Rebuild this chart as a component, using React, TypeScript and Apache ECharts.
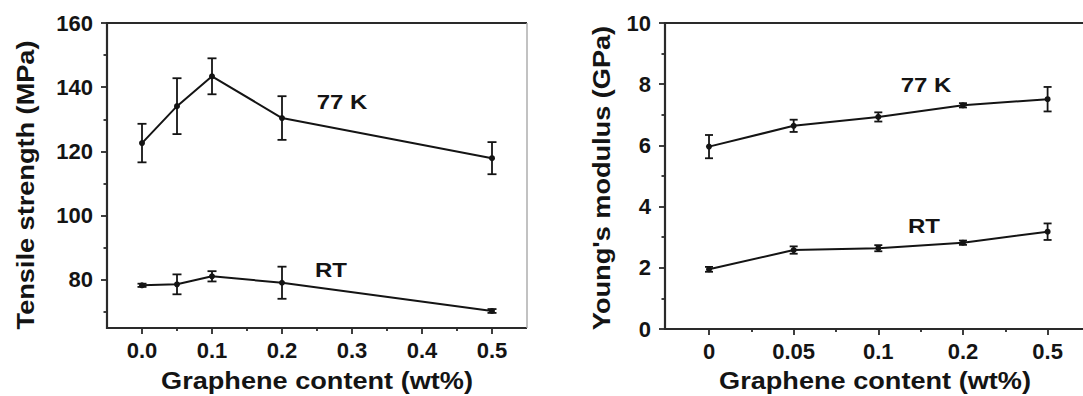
import React, { useEffect, useRef } from "react";
import * as echarts from "echarts";

// ---- data ----
const tensileX = [0, 0.05, 0.1, 0.2, 0.5];
const tensile77 = [122.6, 134.1, 143.4, 130.4, 117.9];
const tensile77Err = [6.0, 8.7, 5.6, 6.8, 5.0];
const tensileRT = [78.3, 78.6, 81.1, 79.1, 70.3];
const tensileRTErr = [0.5, 3.1, 1.6, 5.0, 0.6];
const tensileXTicks = [0, 0.1, 0.2, 0.3, 0.4, 0.5];
const tensileXMinor = [0.05, 0.15, 0.25, 0.35, 0.45];
const tensileYTicks = [80, 100, 120, 140, 160];
const tensileYMinor = [70, 90, 110, 130, 150];

const modulusCats = ["0", "0.05", "0.1", "0.2", "0.5"];
const modulus77 = [5.96, 6.64, 6.93, 7.31, 7.51];
const modulus77Err = [0.38, 0.2, 0.15, 0.07, 0.4];
const modulusRT = [1.95, 2.58, 2.64, 2.82, 3.18];
const modulusRTErr = [0.08, 0.12, 0.1, 0.07, 0.27];
const modulusXTicks = [0, 1, 2, 3, 4];
const modulusXMinor = [0.5, 1.5, 2.5, 3.5, 4.5];
const modulusYTicks = [0, 2, 4, 6, 8, 10];
const modulusYMinor = [1, 3, 5, 7, 9];

const FONT = '"Liberation Sans", Arial, sans-serif';
const INK = "#141414";
const AXIS = "#2a2a2a";

function errData(xs: number[], ys: number[], es: number[]) {
  return ys.map((y, i) => [xs[i], y - es[i], y + es[i]]);
}

function errorSeries(xi: number, yi: number, data: number[][], cap: number) {
  return {
    type: "custom",
    xAxisIndex: xi,
    yAxisIndex: yi,
    data,
    encode: { x: 0, y: [1, 2] },
    z: 3,
    renderItem: (_p: any, api: any) => {
      const x = api.value(0);
      const top = api.coord([x, api.value(2)]);
      const bot = api.coord([x, api.value(1)]);
      const st = { stroke: INK, lineWidth: 1.8 };
      return {
        type: "group",
        children: [
          { type: "line", shape: { x1: top[0], y1: top[1], x2: bot[0], y2: bot[1] }, style: st },
          { type: "line", shape: { x1: top[0] - cap, y1: top[1], x2: top[0] + cap, y2: top[1] }, style: st },
          { type: "line", shape: { x1: bot[0] - cap, y1: bot[1], x2: bot[0] + cap, y2: bot[1] }, style: st },
        ],
      };
    },
  };
}

function lineSeries(xi: number, yi: number, data: number[][]) {
  return {
    type: "line",
    xAxisIndex: xi,
    yAxisIndex: yi,
    data,
    symbol: "circle",
    symbolSize: 6,
    lineStyle: { color: INK, width: 2 },
    itemStyle: { color: INK },
    z: 4,
  };
}

const labelStyle = { color: INK, fontFamily: FONT, fontWeight: "bold" as const, fontSize: 22 };

function txt(text: string, x: number, y: number, size: number, sx: number, rot = 0) {
  return {
    type: "text",
    x,
    y,
    rotation: rot,
    scaleX: sx,
    style: {
      text,
      font: `bold ${size}px ${FONT}`,
      fill: INK,
      align: "center",
      verticalAlign: "middle",
      textAlign: "center",
      textVerticalAlign: "middle",
    },
  };
}

function frameLine(x1: number, y1: number, x2: number, y2: number, color = AXIS, w = 2.2) {
  return { type: "line", z: 50, shape: { x1, y1, x2, y2 }, style: { stroke: color, lineWidth: w } };
}

const hidden = { show: false };

// axis carrying only ticks (and maybe labels)
function tickAxis(grid: number, pos: string, min: number, max: number, ticks: number[], len: number, label: any) {
  return {
    type: "value", gridIndex: grid, position: pos, min, max,
    axisLine: { show: false, onZero: false },
    axisTick: { show: true, inside: false, length: len, customValues: ticks, lineStyle: { color: AXIS, width: 1.8 } },
    axisLabel: label ? { ...labelStyle, ...label, customValues: ticks } : hidden,
    splitLine: hidden,
  };
}

// plot frames (pixel positions of the two grids)
const L = { x: 107, y: 23, w: 420, h: 305 };
const R = { x: 665, y: 23, w: 430, h: 306 };

export default function App() {
  const ref = useRef<HTMLDivElement>(null);
  useEffect(() => {
    if (!ref.current) return;
    const chart = echarts.init(ref.current, undefined, { renderer: "svg" });

    const lx: [number, number] = [-0.05, 0.55];
    const ly: [number, number] = [65, 160];
    const rx: [number, number] = [-0.52, 4.56];
    const ry: [number, number] = [0, 10];

    const option: any = {
      animation: false,
      backgroundColor: "#ffffff",
      grid: [
        { left: L.x, top: L.y, width: L.w, height: L.h, outerBoundsMode: "none", containLabel: false },
        { left: R.x, top: R.y, width: R.w, height: R.h, outerBoundsMode: "none", containLabel: false },
      ],
      xAxis: [
        tickAxis(0, "bottom", lx[0], lx[1], tensileXTicks, 6, { margin: 11, formatter: (v: number) => v.toFixed(1) }), // 0
        tickAxis(0, "bottom", lx[0], lx[1], tensileXMinor, 3, null),
        tickAxis(1, "bottom", rx[0], rx[1], modulusXTicks, 6, { margin: 11, formatter: (v: number) => modulusCats[Math.round(v)] }), // 2
        tickAxis(1, "bottom", rx[0], rx[1], modulusXMinor, 3, null),
      ],
      yAxis: [
        tickAxis(0, "left", ly[0], ly[1], tensileYTicks, 6, { margin: 14 }), // 0
        tickAxis(0, "left", ly[0], ly[1], tensileYMinor, 3.5, null),
        tickAxis(1, "left", ry[0], ry[1], modulusYTicks, 6, { margin: 14 }), // 2
        tickAxis(1, "left", ry[0], ry[1], modulusYMinor, 3.5, null),
      ],
      series: [
        lineSeries(0, 0, tensileX.map((x, i) => [x, tensile77[i]])),
        errorSeries(0, 0, errData(tensileX, tensile77, tensile77Err), 4.5),
        lineSeries(0, 0, tensileX.map((x, i) => [x, tensileRT[i]])),
        errorSeries(0, 0, errData(tensileX, tensileRT, tensileRTErr), 4.5),
        lineSeries(2, 2, modulusCats.map((_c, i) => [i, modulus77[i]])),
        errorSeries(2, 2, errData(modulusCats.map((_c, i) => i), modulus77, modulus77Err), 4),
        lineSeries(2, 2, modulusCats.map((_c, i) => [i, modulusRT[i]])),
        errorSeries(2, 2, errData(modulusCats.map((_c, i) => i), modulusRT, modulusRTErr), 4),
      ],
      graphic: [
        // frames
        frameLine(L.x, L.y, L.x + L.w, L.y),
        frameLine(L.x, L.y - 1, L.x, L.y + L.h + 1),
        frameLine(L.x - 1, L.y + L.h, L.x + L.w, L.y + L.h),
        frameLine(L.x + L.w, L.y, L.x + L.w, L.y + L.h, "#a8a8a8", 1.4),
        frameLine(R.x, R.y, R.x + R.w, R.y),
        frameLine(R.x, R.y - 1, R.x, R.y + R.h + 1),
        frameLine(R.x - 1, R.y + R.h, R.x + R.w, R.y + R.h),
        // texts
        txt("Tensile strength (MPa)", 26, 185, 23, 1.18, Math.PI / 2),
        txt("Young's modulus (GPa)", 602, 178, 23, 1.18, Math.PI / 2),
        txt("Graphene content (wt%)", 317, 381, 23, 1.18),
        txt("Graphene content (wt%)", 875, 381, 23, 1.18),
        txt("77 K", 342, 102, 20, 1.2),
        txt("RT", 331, 270, 20, 1.2),
        txt("77 K", 926, 85, 20, 1.2),
        txt("RT", 924, 226, 20, 1.2),
      ],
    };

    chart.setOption(option);
    return () => chart.dispose();
  }, []);

  return (
    <div
      ref={ref}
      style={{ position: "absolute", left: 0, top: 0, width: 1083, height: 396, background: "#fff" }}
    />
  );
}
